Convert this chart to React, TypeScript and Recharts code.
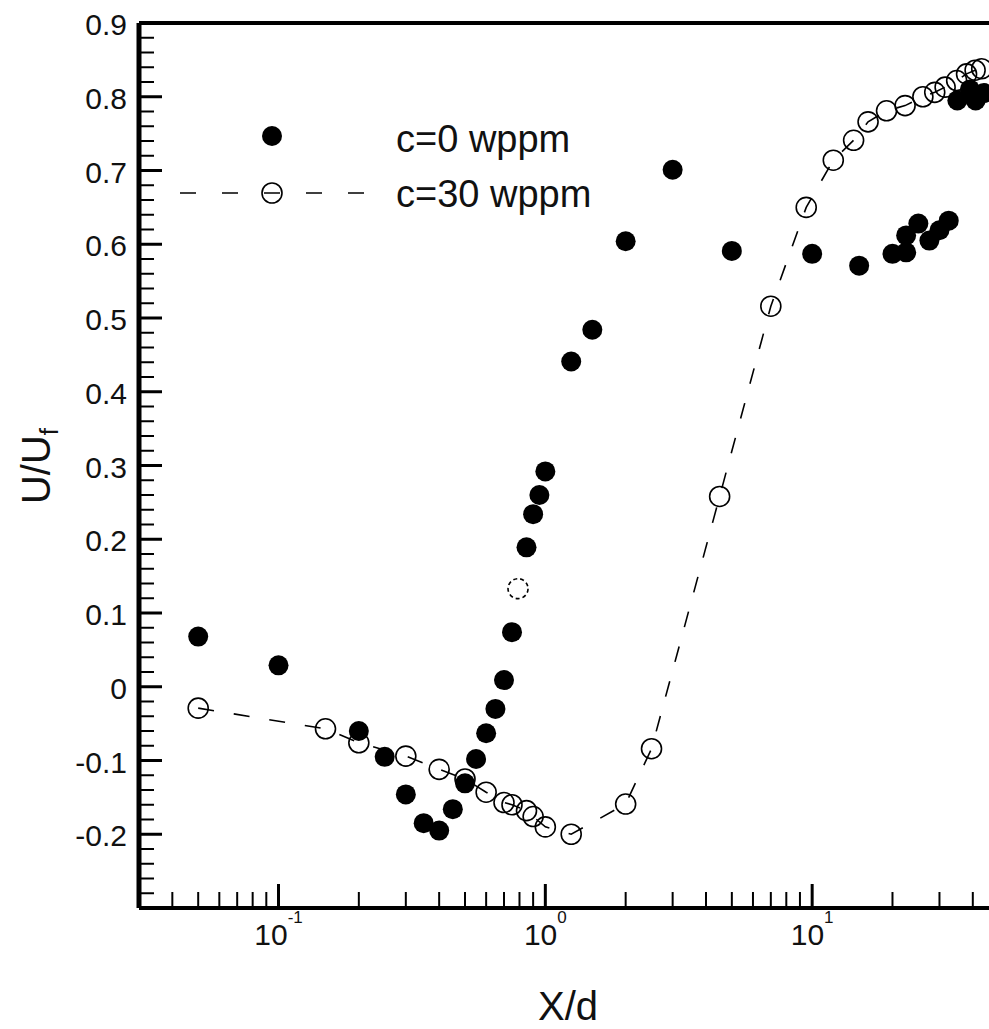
import React from "react";
import { ScatterChart, Scatter, XAxis, YAxis, ReferenceLine, Label } from "recharts";

const W = 989;
const H = 1029;
const FONT = "'Liberation Sans', Arial, Helvetica, sans-serif";
const INK = "#111";

// c=0 wppm (filled circles)
const c0X = [
  0.05, 0.1, 0.2, 0.25, 0.3, 0.35, 0.4, 0.45, 0.5, 0.55, 0.6, 0.65, 0.7, 0.75,
  0.85, 0.9, 0.95, 1.0, 1.25, 1.5, 2, 3, 5, 10, 15, 20, 22.5, 22.5, 25, 27.5,
  30, 32.5, 35, 39, 41, 44,
];
const c0Y = [
  0.068, 0.029, -0.06, -0.095, -0.146, -0.185, -0.195, -0.166, -0.131, -0.098,
  -0.063, -0.03, 0.009, 0.074, 0.189, 0.234, 0.26, 0.292, 0.441, 0.484, 0.604,
  0.701, 0.591, 0.587, 0.571, 0.587, 0.589, 0.612, 0.628, 0.605, 0.619, 0.632,
  0.795, 0.81, 0.795, 0.805,
];

// c=30 wppm (open circles, dashed line)
const c30X = [
  0.05, 0.15, 0.2, 0.3, 0.4, 0.5, 0.6, 0.7, 0.75, 0.85, 0.9, 1.0, 1.25, 2, 2.5,
  4.5, 7, 9.5, 12, 14.3, 16.2, 19, 22.3, 26, 28.8, 31.5, 34.8, 37.9, 40.8, 43.2,
];
const c30Y = [
  -0.029, -0.057, -0.076, -0.094, -0.112, -0.125, -0.143, -0.157, -0.16, -0.168,
  -0.176, -0.19, -0.2, -0.159, -0.084, 0.258, 0.516, 0.65, 0.714, 0.741, 0.766,
  0.781, 0.788, 0.8, 0.806, 0.813, 0.822, 0.831, 0.836, 0.838,
];

// lone dashed-outline point
const oddX = [0.79];
const oddY = [0.133];

// axes
const X_DOMAIN = [0.03, 46];
const X_MAJOR = [0.1, 1, 10];
const X_MAJOR_EXP = ["-1", "0", "1"];
const Y_DOMAIN = [-0.3, 0.9];
const Y_MAJOR = [-0.2, -0.1, 0, 0.1, 0.2, 0.3, 0.4, 0.5, 0.6, 0.7, 0.8, 0.9];

const zip = (xs: number[], ys: number[]) => xs.map((x, i) => ({ x, y: ys[i] }));
const c0Data = zip(c0X, c0Y);
const c30Data = zip(c30X, c30Y);
const oddData = zip(oddX, oddY);

const xTicks: number[] = [];
[0.01, 0.1, 1, 10].forEach((dec) => {
  for (let k = 1; k <= 9; k++) {
    const v = k === 1 ? dec : dec * k;
    if (v > X_DOMAIN[0] && v < X_DOMAIN[1]) xTicks.push(k === 1 ? dec : v);
  }
});

const yTicks: number[] = [];
for (let i = 0; i <= 60; i++) yTicks.push(Math.round((-0.3 + i * 0.02) * 100) / 100);

const XTick = (props: any) => {
  const { x, y, payload } = props;
  const idx = X_MAJOR.indexOf(payload.value);
  const major = idx >= 0;
  return (
    <g>
      <line x1={x} x2={x} y1={y} y2={y - (major ? 24 : 16)} stroke="#000" strokeWidth={major ? 3 : 2} />
      {major && (
        <text x={x} y={y + 37} textAnchor="middle" fontSize={30} fontFamily={FONT} fill={INK}>
          10
          <tspan dy={-22} fontSize={17}>
            {X_MAJOR_EXP[idx]}
          </tspan>
        </text>
      )}
    </g>
  );
};

const YTick = (props: any) => {
  const { x, y, payload } = props;
  const v = payload.value;
  const major = Y_MAJOR.some((m) => Math.abs(m - v) < 1e-6);
  return (
    <g>
      <line x1={x} x2={x + (major ? 23 : 15)} y1={y} y2={y} stroke="#000" strokeWidth={major ? 3 : 2} />
      {major && (
        <text x={x - 12} y={y + 12} textAnchor="end" fontSize={30} fontFamily={FONT} fill={INK}>
          {v === 0 ? "0" : v.toFixed(1)}
        </text>
      )}
    </g>
  );
};

const FilledDot = (props: any) => <circle cx={props.cx} cy={props.cy} r={10} fill="#000" />;
const OpenDot = (props: any) => (
  <circle cx={props.cx} cy={props.cy} r={10} fill="none" stroke="#000" strokeWidth={1.6} />
);
const OddDot = (props: any) => (
  <circle cx={props.cx} cy={props.cy} r={10} fill="none" stroke="#000" strokeWidth={1.6} strokeDasharray="4 3" />
);

export default function App() {
  return (
    <div style={{ position: "absolute", left: 0, top: 0, width: W, height: H, background: "#fff" }}>
      <ScatterChart width={W} height={H} margin={{ top: 23, right: 0, bottom: 0, left: 0 }}>
        <XAxis
          dataKey="x"
          type="number"
          scale="log"
          domain={X_DOMAIN}
          allowDataOverflow
          ticks={xTicks}
          interval={0}
          tickSize={0}
          tickMargin={0}
          tick={<XTick />}
          axisLine={{ stroke: "#000", strokeWidth: 4 }}
          height={121}
        >
          <Label
            content={() => (
              <text x={568} y={1020} textAnchor="middle" fontSize={40} fontFamily={FONT} fill={INK}>
                X/d
              </text>
            )}
          />
        </XAxis>
        <YAxis
          dataKey="y"
          type="number"
          domain={Y_DOMAIN}
          allowDataOverflow
          ticks={yTicks}
          interval={0}
          tickSize={0}
          tickMargin={0}
          tick={<YTick />}
          axisLine={{ stroke: "#000", strokeWidth: 5 }}
          width={139}
        >
          <Label
            content={() => (
              <text
                transform="translate(50,466) rotate(-90)"
                textAnchor="middle"
                fontSize={40}
                fontFamily={FONT}
                fill={INK}
              >
                U/U
                <tspan dy={8} fontSize={26}>
                  f
                </tspan>
              </text>
            )}
          />
        </YAxis>
        <ReferenceLine y={0.9} stroke="#000" strokeWidth={4} />
        <Scatter
          name="c=30 wppm"
          data={c30Data}
          line={{ stroke: "#000", strokeWidth: 1.6, strokeDasharray: "16 20" }}
          lineType="joint"
          shape={OpenDot}
          isAnimationActive={false}
        />
        <Scatter name="odd" data={oddData} shape={OddDot} isAnimationActive={false} />
        <Scatter name="c=0 wppm" data={c0Data} shape={FilledDot} isAnimationActive={false} />
      </ScatterChart>
      <svg
        width={W}
        height={H}
        style={{ position: "absolute", left: 0, top: 0, pointerEvents: "none" }}
      >
        <circle cx={272} cy={136} r={10} fill="#000" />
        <text x={396} y={152} fontSize={38} fontFamily={FONT} fill={INK}>
          c=0 wppm
        </text>
        <line x1={180} x2={366} y1={193} y2={193} stroke="#000" strokeWidth={1.6} strokeDasharray="16 26" />
        <circle cx={272} cy={193} r={10} fill="none" stroke="#000" strokeWidth={1.6} />
        <text x={396} y={207} fontSize={38} fontFamily={FONT} fill={INK}>
          c=30 wppm
        </text>
      </svg>
    </div>
  );
}
